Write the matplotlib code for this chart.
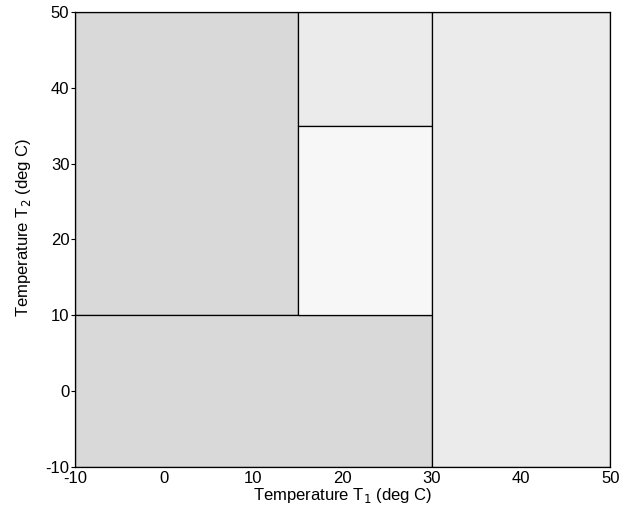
import matplotlib

matplotlib.use("Agg")
import matplotlib.pyplot as plt

plt.rcParams["font.family"] = ["Liberation Sans", "DejaVu Sans"]
plt.rcParams["axes.unicode_minus"] = False

# region boundaries (deg C) and shading for each rectangle
t1_lo = [-10, -10, 15, 15, 30]
t1_hi = [15, 30, 30, 30, 50]
t2_lo = [10, -10, 35, 10, -10]
t2_hi = [50, 10, 50, 35, 50]
shade = ["#d9d9d9", "#d9d9d9", "#ebebeb", "#f7f7f7", "#ebebeb"]

ticks = [-10, 0, 10, 20, 30, 40, 50]

fig = plt.figure(figsize=(6.35, 5.2), dpi=100, facecolor="white")
ax = fig.add_axes([0.118, 0.102, 0.843, 0.875])

widths = [h - l for l, h in zip(t1_lo, t1_hi)]
heights = [h - l for l, h in zip(t2_lo, t2_hi)]
ax.bar(t1_lo, heights, width=widths, bottom=t2_lo, align="edge",
       color=shade, edgecolor="black", linewidth=0.9)

ax.set_xlim(-10, 50)
ax.set_ylim(-10, 50)
ax.set_xticks(ticks)
ax.set_yticks(ticks)
ax.tick_params(axis="x", length=0, pad=3, labelsize=12)
ax.tick_params(axis="y", direction="out", length=3, width=0.8, pad=1, labelsize=12)
for s in ax.spines.values():
    s.set_linewidth(0.9)

ax.set_xlabel("Temperature T$_1$ (deg C)", fontsize=12, labelpad=0)
ax.set_ylabel("Temperature T$_2$ (deg C)", fontsize=12)
ax.yaxis.set_label_coords(-0.078, 0.527)

fig.savefig("out.png", dpi=100, facecolor="white")
